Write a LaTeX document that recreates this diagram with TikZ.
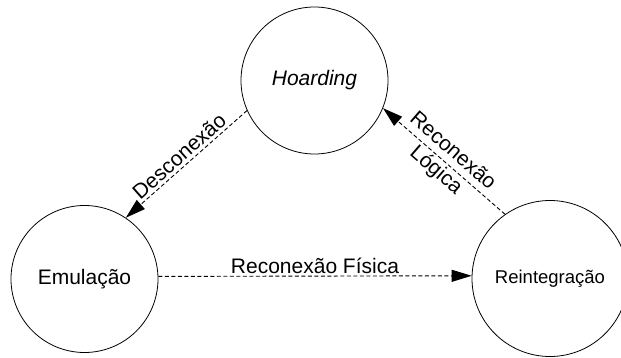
\documentclass[tikz,border=0pt]{standalone}
\usepackage{fontspec}
\setmainfont{Liberation Sans}
\usetikzlibrary{arrows.meta}
\begin{document}
\begin{tikzpicture}[x=1pt,y=-1pt,
  state/.style={circle,draw,line width=0.8pt,inner sep=0pt,font=\fontsize{21}{25}\selectfont},
  conn/.style={line width=0.9pt,dash pattern=on 4pt off 2.5pt,-{Triangle[length=20pt,width=12pt]}},
  lbl/.style={font=\fontsize{21}{25.5}\selectfont,inner sep=3pt}]
\useasboundingbox (0,0) rectangle (621,358);
\node[state,minimum size=147pt] (h) at (314.5,80.5) {\itshape Hoarding};
\node[state,minimum size=147pt] (e) at (84.5,279) {Emulação};
\node[state,minimum size=156pt,font=\fontsize{18.5}{22}\selectfont] (r) at (550,278.5) {Reintegração};
\draw[conn] (h.204) -- node[lbl,midway,sloped,above] (l1) {Desconexão} (e.56);
\draw[conn] (r.125) -- node[lbl,midway,sloped,align=center] (l2) {Reconexão\\Lógica} (h.-22);
\draw[conn] (e.2.5) -- node[lbl,midway,above,inner sep=2pt] (l3) {Reconexão Física} (r.178);
\end{tikzpicture}
\end{document}
